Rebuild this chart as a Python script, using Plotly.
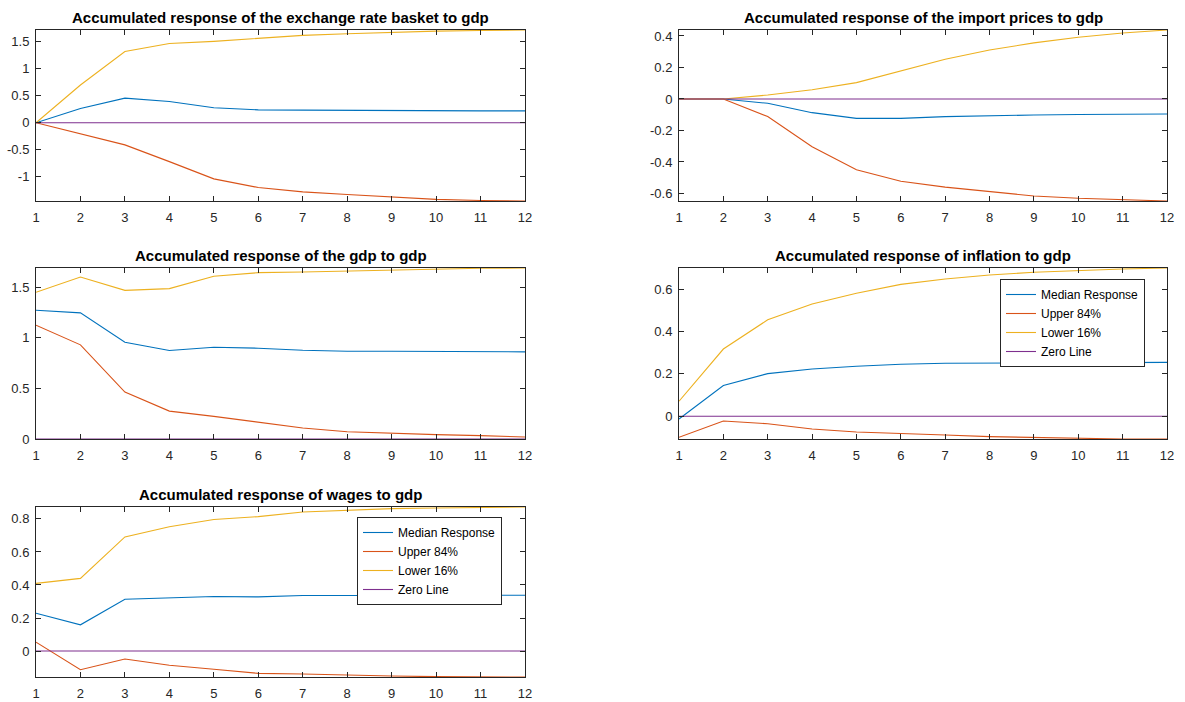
import plotly.graph_objects as go

periods = list(range(1, 13))
x_ticks = list(range(1, 13))

# Panel 1: exchange rate basket
er_median = [0, 0.265, 0.457, 0.395, 0.278, 0.24, 0.235, 0.228, 0.222, 0.22, 0.22, 0.22]
er_upper = [0, -0.2, -0.41, -0.72, -1.04, -1.2, -1.28, -1.33, -1.38, -1.42, -1.44, -1.45]
er_lower = [0, 0.70, 1.32, 1.47, 1.51, 1.56, 1.62, 1.65, 1.68, 1.70, 1.71, 1.72]

# Panel 2: import prices
ip_median = [0, 0, -0.0275, -0.087, -0.123, -0.123, -0.112, -0.106, -0.102, -0.099, -0.097, -0.095]
ip_upper = [0, 0, -0.112, -0.303, -0.45, -0.523, -0.56, -0.59, -0.616, -0.631, -0.641, -0.648]
ip_lower = [0, 0, 0.025, 0.059, 0.104, 0.178, 0.252, 0.311, 0.356, 0.392, 0.419, 0.438]

# Panel 3: gdp
gdp_median = [1.273, 1.247, 0.957, 0.875, 0.908, 0.898, 0.878, 0.868, 0.868, 0.868, 0.865, 0.862]
gdp_upper = [1.125, 0.931, 0.464, 0.276, 0.224, 0.168, 0.109, 0.072, 0.056, 0.043, 0.033, 0.02]
gdp_lower = [1.451, 1.602, 1.47, 1.487, 1.609, 1.645, 1.651, 1.661, 1.674, 1.684, 1.688, 1.691]

# Panel 4: inflation
inf_median = [-0.013, 0.145, 0.201, 0.223, 0.236, 0.245, 0.25, 0.251, 0.251, 0.253, 0.254, 0.254]
inf_upper = [-0.099, -0.022, -0.035, -0.06, -0.074, -0.08, -0.088, -0.096, -0.1, -0.104, -0.107, -0.107]
inf_lower = [0.071, 0.317, 0.455, 0.529, 0.58, 0.622, 0.647, 0.666, 0.679, 0.688, 0.694, 0.699]

# Panel 5: wages
wag_median = [0.229, 0.159, 0.314, 0.324, 0.33, 0.328, 0.336, 0.336, 0.338, 0.338, 0.338, 0.338]
wag_upper = [0.054, -0.113, -0.048, -0.086, -0.11, -0.135, -0.139, -0.147, -0.151, -0.155, -0.157, -0.157]
wag_lower = [0.41, 0.44, 0.691, 0.752, 0.796, 0.814, 0.842, 0.854, 0.862, 0.866, 0.87, 0.872]

zero_line = [0, 0, 0, 0, 0, 0, 0, 0, 0, 0, 0, 0]

series_names = ["Median Response", "Upper 84%", "Lower 16%", "Zero Line"]
series_colors = ["#0072BD", "#D95319", "#EDB120", "#7E2F8E"]

titles = [
    "Accumulated response of the exchange rate basket to gdp",
    "Accumulated response of the import prices to gdp",
    "Accumulated response of the gdp to gdp",
    "Accumulated response of inflation to gdp",
    "Accumulated response of wages to gdp",
]
y_tickvals = [
    [-1, -0.5, 0, 0.5, 1, 1.5],
    [-0.6, -0.4, -0.2, 0, 0.2, 0.4],
    [0, 0.5, 1, 1.5],
    [0, 0.2, 0.4, 0.6],
    [0, 0.2, 0.4, 0.6, 0.8],
]
y_ticktext = [
    ["-1", "-0.5", "0", "0.5", "1", "1.5"],
    ["-0.6", "-0.4", "-0.2", "0", "0.2", "0.4"],
    ["0", "0.5", "1", "1.5"],
    ["0", "0.2", "0.4", "0.6"],
    ["0", "0.2", "0.4", "0.6", "0.8"],
]
panels = [
    (er_median, er_upper, er_lower),
    (ip_median, ip_upper, ip_lower),
    (gdp_median, gdp_upper, gdp_lower),
    (inf_median, inf_upper, inf_lower),
    (wag_median, wag_upper, wag_lower),
]
legend_of_panel = [None, None, None, "legend", "legend2"]

W, H = 1185, 702
col_px = [(36, 525), (679, 1167)]
row_px = [(30, 201), (268, 439), (507, 677)]
layout_pos = [(0, 0), (0, 1), (1, 0), (1, 1), (2, 0)]

FONT = "Liberation Sans, Arial, Helvetica, sans-serif"
AX = "#262626"

fig = go.Figure()
annotations = []
layout_axes = {}
for i, (series, title) in enumerate(zip(panels, titles)):
    r, c = layout_pos[i]
    xs = "" if i == 0 else str(i + 1)
    xref, yref = "x" + xs, "y" + xs
    all_vals = list(series[0]) + list(series[1]) + list(series[2]) + zero_line
    ymin, ymax = min(all_vals), max(all_vals)
    lg = legend_of_panel[i]
    for vals, name, color in zip(list(series) + [zero_line], series_names, series_colors):
        kw = dict(x=periods, y=vals, mode="lines", name=name,
                  line=dict(color=color, width=1.1), xaxis=xref, yaxis=yref,
                  showlegend=lg is not None)
        if lg is not None:
            kw["legend"] = lg
        fig.add_trace(go.Scatter(**kw))
    x0, x1 = col_px[c]
    y0, y1 = row_px[r]
    dx = [x0 / W, x1 / W]
    dy = [1 - y1 / H, 1 - y0 / H]
    common = dict(showline=True, linecolor=AX, linewidth=1, mirror="ticks",
                  ticks="inside", ticklen=5, tickcolor=AX, tickwidth=1,
                  showgrid=False, zeroline=False, automargin=False,
                  tickfont=dict(family=FONT, size=13, color=AX))
    layout_axes["xaxis" + xs] = dict(domain=dx, range=[1, 12], tickmode="array",
                                     tickvals=x_ticks, ticktext=[str(t) for t in x_ticks],
                                     anchor=yref, ticklabelstandoff=4, **common)
    layout_axes["yaxis" + xs] = dict(domain=dy, range=[ymin, ymax], tickmode="array",
                                     tickvals=y_tickvals[i], ticktext=y_ticktext[i],
                                     anchor=xref, ticklabelstandoff=3, **common)
    annotations.append(dict(text="<b>" + title + "</b>", xref="paper", yref="paper",
                            x=(dx[0] + dx[1]) / 2, y=dy[1], xanchor="center",
                            yanchor="bottom", yshift=2, showarrow=False,
                            font=dict(family=FONT, size=15, color="black")))

legend_style = dict(xref="paper", yref="paper", xanchor="left", yanchor="top",
                    bgcolor="white", bordercolor=AX, borderwidth=1,
                    font=dict(family=FONT, size=12, color="black"),
                    tracegroupgap=0)

fig.update_layout(
    width=W, height=H,
    margin=dict(l=0, r=0, t=0, b=0, autoexpand=False),
    paper_bgcolor="white", plot_bgcolor="white",
    annotations=annotations,
    hovermode=False,
    legend=dict(x=1000 / W, y=1 - 279 / H, **legend_style),
    legend2=dict(x=357 / W, y=1 - 517 / H, **legend_style),
    **layout_axes,
)
fig.write_html(
    "out.html",
    config={"displayModeBar": False},
    post_script="document.body.style.margin='0';document.body.style.overflow='hidden';",
)
